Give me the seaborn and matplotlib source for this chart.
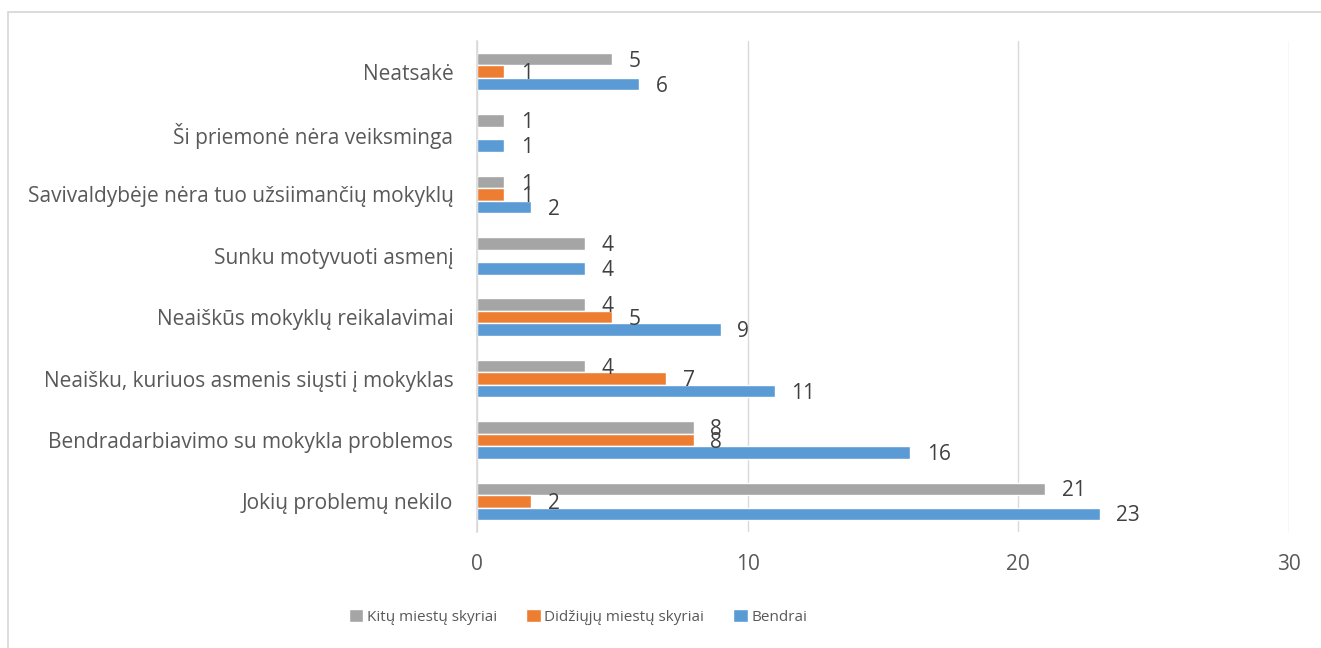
import matplotlib
matplotlib.use('Agg')
import matplotlib.pyplot as plt
import pandas as pd
import seaborn as sns
from matplotlib.patches import Rectangle

# Data
categories = ['Neatsakė', 'Ši priemonė nėra veiksminga',
              'Savivaldybėje nėra tuo užsiimančių mokyklų', 'Sunku motyvuoti asmenį',
              'Neaiškūs mokyklų reikalavimai', 'Neaišku, kuriuos asmenis siųsti į mokyklas',
              'Bendradarbiavimo su mokykla problemos', 'Jokių problemų nekilo']
series = ['Kitų miestų skyriai', 'Didžiųjų miestų skyriai', 'Bendrai']
kitu = [5, 1, 1, 4, 4, 4, 8, 21]
didziuju = [1, 0, 1, 0, 5, 7, 8, 2]
bendrai = [6, 1, 2, 4, 9, 11, 16, 23]
colors = ['#A5A5A5', '#ED7D31', '#5B9BD5']

rows = []
for name, vals in zip(series, [kitu, didziuju, bendrai]):
    for c, v in zip(categories, vals):
        rows.append({'kategorija': c, 'serija': name, 'reiksme': v})
df = pd.DataFrame(rows)

sns.set_style('white')
plt.rcParams['font.family'] = ['Open Sans', 'DejaVu Sans']
fs = 15

fig = plt.figure(figsize=(13.21, 6.48), dpi=100)
ax = fig.add_axes([477 / 1321, 1 - 532 / 648, (1289 - 477) / 1321, (532 - 41) / 648])

sns.barplot(data=df, y='kategorija', x='reiksme', hue='serija', order=categories,
            hue_order=series, palette=colors, orient='h', width=0.61, gap=0,
            saturation=1, ax=ax, legend=True)

ax.set_xlim(0, 30)
ax.set_xticks([0, 10, 20, 30])
ax.set_xlabel('')
ax.set_ylabel('')
ax.grid(axis='x', color='#D9D9D9', linewidth=1)
ax.set_axisbelow(True)
for s in ['top', 'right', 'bottom']:
    ax.spines[s].set_visible(False)
ax.spines['left'].set_color('#D9D9D9')
ax.spines['left'].set_linewidth(1.2)
ax.tick_params(axis='x', length=0, pad=16, labelsize=fs, labelcolor='#595959')
ax.tick_params(axis='y', length=0, pad=17, labelsize=fs, labelcolor='#595959')

# data labels
for cont in ax.containers:
    for bar in cont:
        w = bar.get_width()
        if w > 0:
            ax.annotate(f'{int(w)}', (w, bar.get_y() + bar.get_height() / 2),
                        xytext=(12, -1.5), textcoords='offset points',
                        ha='left', va='center', fontsize=fs, color='#404040')

handles, labels = ax.get_legend_handles_labels()
ax.legend_.remove()
fig.legend(handles, labels, loc='center', bbox_to_anchor=(578 / 1321, 1 - 617 / 648),
           ncol=3, frameon=False, fontsize=11, labelcolor='#595959',
           handlelength=0.95, handleheight=0.95, handletextpad=0.25, columnspacing=1.9)

# chart border
fig.patches.append(Rectangle((8 / 1321, -0.05), 1.1, 1 - 12 / 648 + 0.05,
                             transform=fig.transFigure, fill=False,
                             edgecolor='#D9D9D9', linewidth=1.3))

fig.savefig('out.png', dpi=100)
